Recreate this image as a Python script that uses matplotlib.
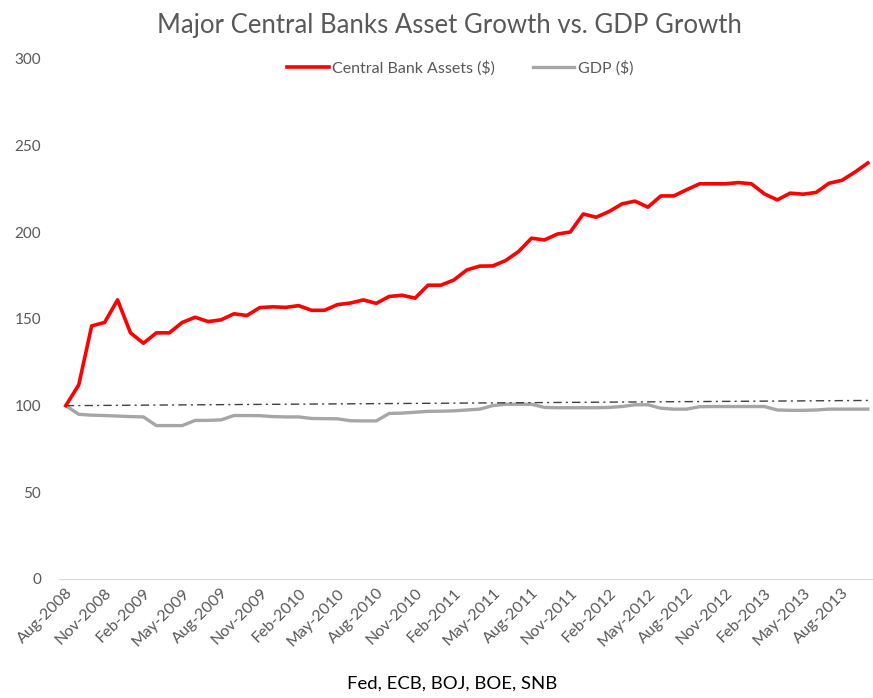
import matplotlib.pyplot as plt
import pandas as pd

# monthly index levels, Aug-2008 = 100
months = pd.date_range("2008-08-01", periods=63, freq="MS")
cb_assets = [100, 112, 146, 148, 161, 142, 136, 142, 142, 148,
             151, 148.5, 149.5, 153, 152, 156.6, 157, 156.7, 157.7, 155,
             155, 158.3, 159.2, 161, 159, 163, 163.7, 162, 169.5, 169.5,
             172.5, 178.3, 180.5, 180.6, 183.7, 188.9, 196.6, 195.6, 199, 200.2,
             210.6, 208.7, 212, 216.4, 218, 214.5, 221, 221, 224.6, 228,
             228, 228, 228.7, 228, 222.2, 218.7, 222.6, 222, 223, 228.3,
             230, 234.7, 240]
gdp = [100, 95, 94.5, 94.3, 94, 93.7, 93.5, 88.5, 88.5, 88.5,
       91.5, 91.5, 91.8, 94.3, 94.3, 94.2, 93.7, 93.5, 93.5, 92.6,
       92.5, 92.4, 91.3, 91.2, 91.2, 95.5, 95.7, 96.2, 96.7, 96.8,
       97, 97.5, 98, 100, 100.8, 100.8, 100.8, 99, 98.8, 98.8,
       98.8, 98.8, 99, 99.5, 100.5, 100.5, 98.5, 98, 98, 99.4,
       99.5, 99.5, 99.5, 99.5, 99.5, 97.5, 97.3, 97.3, 97.5, 98,
       98, 98, 98]
reference_line = [100, 103]   # start / end level of the dash-dot guide

tick_idx = list(range(0, len(months), 3))
tick_labels = [months[i].strftime("%b-%Y") for i in tick_idx]
yticks = [0, 50, 100, 150, 200, 250, 300]

plt.rcParams["font.family"] = ["Lato", "DejaVu Sans"]
txt = "#595959"

fig = plt.figure(figsize=(8.73, 6.98), dpi=100)
ax = fig.add_axes([0.068, 0.1705, 0.932, 0.745])

x = list(range(len(months)))
ax.plot(x, cb_assets, color="#FF0000", lw=2.6, label="Central Bank Assets ($)",
        solid_joinstyle="round", zorder=3)
ax.plot(x, gdp, color="#A6A6A6", lw=2.4, label="GDP ($)", zorder=2)
ax.plot([x[0], x[-1]], reference_line, color="#404040", lw=1.0,
        ls=(0, (6, 3, 1.5, 3)), zorder=2)

ax.set_xlim(-0.5, 62.4)
ax.set_ylim(0, 300)
ax.set_yticks(yticks)
ax.set_xticks(tick_idx)
ax.set_xticklabels(tick_labels, rotation=45, ha="right", va="top",
                   rotation_mode="anchor")
ax.tick_params(axis="both", length=0, colors=txt)
ax.tick_params(axis="y", pad=13, labelsize=11)
ax.tick_params(axis="x", pad=5, labelsize=11.5)

for s in ["top", "right", "left"]:
    ax.spines[s].set_visible(False)
ax.spines["bottom"].set_color("#D9D9D9")

fig.suptitle("Major Central Banks Asset Growth vs. GDP Growth", x=0.515, y=0.982,
             fontsize=18.5, color=txt)
fig.legend(loc="center", bbox_to_anchor=(0.527, 0.902), ncol=2, frameon=False,
           fontsize=11.5, labelcolor=txt, handlelength=2.6, handletextpad=0.2,
           columnspacing=2.4)
fig.text(0.518, 0.02, "Fed, ECB, BOJ, BOE, SNB", ha="center", va="center",
         fontsize=13.3, color="black")

fig.savefig("out.png", dpi=100)
